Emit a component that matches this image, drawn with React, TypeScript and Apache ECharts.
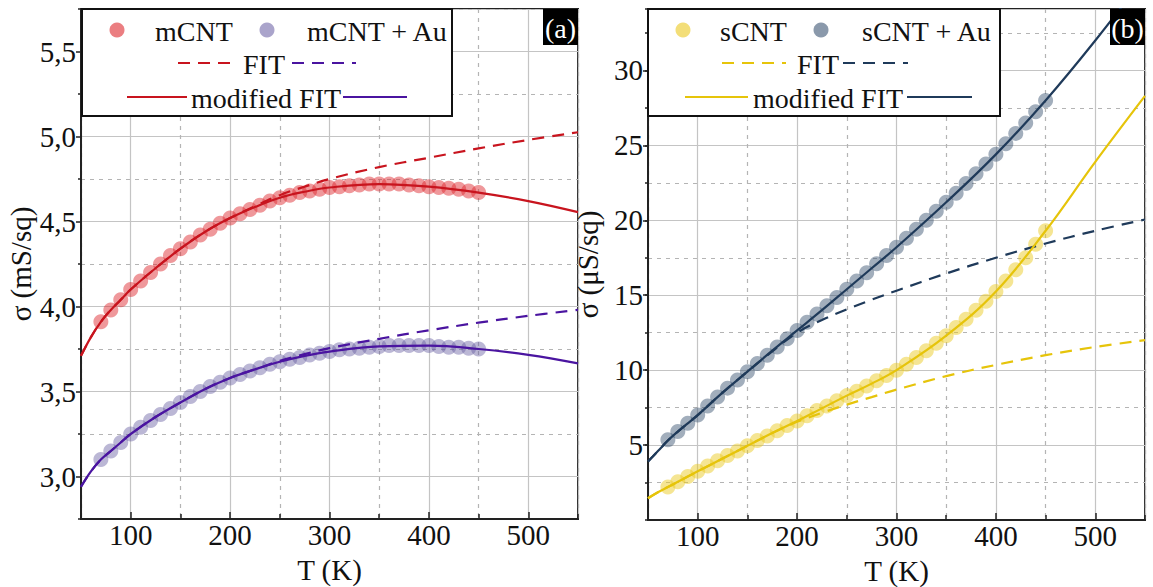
import React, { useEffect, useRef } from "react";
import * as echarts from "echarts";

// ---------- data ----------
const pointT = [70, 80, 90, 100, 110, 120, 130, 140, 150, 160, 170, 180, 190, 200, 210, 220, 230, 240, 250, 260, 270, 280, 290, 300, 310, 320, 330, 340, 350, 360, 370, 380, 390, 400, 410, 420, 430, 440, 450];

const mCNT = [3.91, 3.98, 4.04, 4.10, 4.15, 4.20, 4.25, 4.30, 4.34, 4.38, 4.42, 4.455, 4.49, 4.52, 4.545, 4.57, 4.595, 4.62, 4.64, 4.655, 4.67, 4.68, 4.69, 4.70, 4.705, 4.71, 4.715, 4.72, 4.72, 4.72, 4.72, 4.715, 4.71, 4.705, 4.70, 4.695, 4.69, 4.68, 4.67];
const mCNTAu = [3.10, 3.15, 3.20, 3.25, 3.29, 3.33, 3.365, 3.40, 3.435, 3.47, 3.50, 3.53, 3.555, 3.58, 3.60, 3.62, 3.64, 3.66, 3.675, 3.69, 3.70, 3.715, 3.725, 3.735, 3.745, 3.75, 3.755, 3.76, 3.765, 3.77, 3.77, 3.77, 3.77, 3.77, 3.765, 3.76, 3.76, 3.755, 3.75];

const sCNT = [2.2, 2.55, 2.9, 3.25, 3.6, 3.95, 4.3, 4.6, 4.95, 5.3, 5.6, 5.95, 6.3, 6.6, 6.95, 7.3, 7.6, 7.95, 8.3, 8.6, 8.95, 9.3, 9.65, 10.0, 10.4, 10.85, 11.3, 11.8, 12.3, 12.85, 13.4, 14.0, 14.6, 15.25, 15.95, 16.7, 17.5, 18.4, 19.3];
const sCNTAu = [5.35, 5.9, 6.45, 7.0, 7.6, 8.2, 8.8, 9.35, 9.9, 10.45, 11.0, 11.55, 12.1, 12.65, 13.2, 13.75, 14.3, 14.85, 15.4, 15.95, 16.5, 17.1, 17.65, 18.2, 18.8, 19.4, 20.0, 20.6, 21.2, 21.8, 22.45, 23.1, 23.75, 24.4, 25.1, 25.8, 26.5, 27.25, 28.0];

const fitT = [50, 60, 70, 80, 90, 100, 125, 150, 175, 200, 225, 250, 275, 300, 350, 400, 450, 500, 550];
const mFit = [3.71, 3.82, 3.91, 3.98, 4.04, 4.10, 4.225, 4.34, 4.44, 4.52, 4.59, 4.655, 4.705, 4.75, 4.82, 4.875, 4.93, 4.98, 5.025];
const mModFit = [3.71, 3.82, 3.91, 3.98, 4.04, 4.10, 4.225, 4.34, 4.44, 4.52, 4.585, 4.64, 4.675, 4.70, 4.72, 4.705, 4.67, 4.62, 4.555];
const mAuFit = [2.94, 3.03, 3.10, 3.15, 3.20, 3.25, 3.35, 3.435, 3.515, 3.58, 3.63, 3.68, 3.72, 3.755, 3.81, 3.86, 3.905, 3.945, 3.98];
const mAuModFit = [2.94, 3.03, 3.10, 3.15, 3.20, 3.25, 3.35, 3.435, 3.515, 3.58, 3.63, 3.675, 3.71, 3.735, 3.765, 3.77, 3.75, 3.715, 3.665];

const sFit = [1.45, 1.85, 2.2, 2.55, 2.9, 3.25, 4.1, 4.95, 5.8, 6.55, 7.15, 7.7, 8.2, 8.7, 9.6, 10.35, 11.0, 11.55, 12.0];
const sModFit = [1.45, 1.85, 2.2, 2.55, 2.9, 3.25, 4.1, 4.95, 5.8, 6.6, 7.45, 8.3, 9.1, 10.0, 12.3, 15.25, 19.3, 23.9, 28.3];
const sAuFit = [3.9, 4.6, 5.3, 5.9, 6.45, 7.0, 8.5, 9.9, 11.25, 12.5, 13.35, 14.05, 14.7, 15.3, 16.45, 17.5, 18.45, 19.3, 20.05];
const sAuModFit = [3.9, 4.6, 5.3, 5.9, 6.45, 7.0, 8.5, 9.9, 11.3, 12.65, 14.0, 15.4, 16.8, 18.2, 21.2, 24.4, 28.0, 32.0, 36.3];

const leftLegend = { dots: ["mCNT", "mCNT + Au"], fit: "FIT", mod: "modified FIT", tag: "(a)" };
const rightLegend = { dots: ["sCNT", "sCNT + Au"], fit: "FIT", mod: "modified FIT", tag: "(b)" };

// ---------- styles ----------
const FONT = '"Liberation Serif", "Times New Roman", serif';
const RED = "#c8141e";
const RED_DOT = "rgba(222,40,45,0.6)";
const PURPLE = "#4a14a0";
const PURPLE_DOT = "rgba(100,90,160,0.55)";
const YELLOW = "#e6c40a";
const YELLOW_DOT = "rgba(235,200,30,0.6)";
const NAVY = "#1f3a5a";
const NAVY_DOT = "rgba(60,85,115,0.6)";
const GRID_C = "#c4c4c4";
const DASH_C = "#b4b4b4";

const pairs = (xs: number[], ys: number[]) => xs.map((x, i) => [x, ys[i]]);

function xAxes(gridIndex: number) {
  return [
    {
      type: "value", gridIndex, position: "bottom", min: 50, max: 550, splitNumber: 5,
      name: "T (K)", nameLocation: "middle", nameGap: 36,
      nameTextStyle: { fontFamily: FONT, fontSize: 29, color: "#111" },
      axisLine: { show: true, lineStyle: { color: "#222", width: 2 } },
      axisTick: { show: true, inside: true, length: 7, lineStyle: { color: "#222", width: 1.5 } },
      axisLabel: { showMinLabel: false, showMaxLabel: false, fontFamily: FONT, fontSize: 29, color: "#111", margin: 1 },
      splitLine: { show: true, lineStyle: { color: GRID_C, width: 1.2 } },
    },
    {
      type: "value", gridIndex, position: "bottom", min: 50, max: 550, interval: 100,
      axisLine: { show: false },
      axisTick: { show: true, inside: true, length: 5, lineStyle: { color: "#222", width: 1.5 } },
      axisLabel: { show: false },
      splitLine: { show: true, lineStyle: { color: DASH_C, width: 1.2, type: [4, 5] } },
    },
  ];
}

function App() {
  const ref = useRef<HTMLDivElement>(null);
  useEffect(() => {
    if (!ref.current) return;
    const chart = echarts.init(ref.current, null, { renderer: "svg" });

    const legend = (x0: number, w: number, lg: any, c1: string, d1: string, c2: string, d2: string, pos: any) => {
      const ts = { fontFamily: FONT, fontSize: 28, fill: "#111", verticalAlign: "middle", align: "left" };
      return [
        { type: "rect", z: 100, shape: { x: x0 + 1, y: 9, width: w, height: 107 }, style: { fill: "#fff", stroke: "#111", lineWidth: 2 } },
        { type: "circle", z: 101, shape: { cx: pos.c1, cy: 30, r: 7.5 }, style: { fill: d1 } },
        { type: "text", z: 101, x: pos.t1, y: 31, style: { ...ts, text: lg.dots[0] } },
        { type: "circle", z: 101, shape: { cx: pos.c2, cy: 30, r: 7.5 }, style: { fill: d2 } },
        { type: "text", z: 101, x: pos.t2, y: 31, style: { ...ts, text: lg.dots[1] } },
        { type: "line", z: 101, shape: { x1: pos.d1[0], y1: 63, x2: pos.d1[1], y2: 63 }, style: { stroke: c1, lineWidth: 2.2, lineDash: [12, 8] } },
        { type: "text", z: 101, x: pos.f, y: 64, style: { ...ts, text: lg.fit } },
        { type: "line", z: 101, shape: { x1: pos.d2[0], y1: 63, x2: pos.d2[1], y2: 63 }, style: { stroke: c2, lineWidth: 2.2, lineDash: [12, 8] } },
        { type: "line", z: 101, shape: { x1: pos.s1[0], y1: 97, x2: pos.s1[1], y2: 97 }, style: { stroke: c1, lineWidth: 2.2 } },
        { type: "text", z: 101, x: pos.m, y: 98, style: { ...ts, text: lg.mod } },
        { type: "line", z: 101, shape: { x1: pos.s2[0], y1: 97, x2: pos.s2[1], y2: 97 }, style: { stroke: c2, lineWidth: 2.2 } },
        { type: "rect", z: 100, shape: { x: pos.tagX, y: 9, width: 35, height: 36 }, style: { fill: "#000" } },
        { type: "text", z: 101, x: pos.tagX + 17.5, y: 28, style: { fontFamily: FONT, fontSize: 28, fill: "#fff", text: lg.tag, align: "center", verticalAlign: "middle" } },
      ];
    };

    const lineS = (xa: number, ya: number, ys: number[], color: string, dashed: boolean) => ({
      type: "line", xAxisIndex: xa, yAxisIndex: ya, data: pairs(fitT, ys), smooth: 0.4,
      showSymbol: false, symbol: "none", z: dashed ? 3 : 4, silent: true,
      lineStyle: { color, width: 2.2, type: dashed ? [12, 8] : "solid" },
    });
    const dotS = (xa: number, ya: number, ys: number[], color: string) => ({
      type: "scatter", xAxisIndex: xa, yAxisIndex: ya, data: pairs(pointT, ys),
      symbolSize: 15, z: 2, silent: true, itemStyle: { color, borderWidth: 0 },
    });

    const option: any = {
      animation: false,
      backgroundColor: "#fff",
      grid: [
        { left: 81, top: 9, width: 497, height: 510, show: true, borderColor: "#222", borderWidth: 2, backgroundColor: "transparent", outerBoundsMode: "none", containLabel: false },
        { left: 648, top: 9, width: 497, height: 511, show: true, borderColor: "#222", borderWidth: 2, backgroundColor: "transparent", outerBoundsMode: "none", containLabel: false },
      ],
      xAxis: [...xAxes(0), ...xAxes(1)],
      yAxis: [
        {
          type: "value", gridIndex: 0, position: "left", min: 2.75, max: 5.75, splitNumber: 6,
          name: "σ (mS/sq)", nameLocation: "middle", nameGap: 46, nameRotate: 90,
          nameTextStyle: { fontFamily: FONT, fontSize: 29, color: "#111" },
          axisLine: { show: true, lineStyle: { color: "#222", width: 2 } },
          axisTick: { show: true, inside: false, length: 5, lineStyle: { color: "#222", width: 1.5 } },
          axisLabel: { showMinLabel: false, showMaxLabel: false, fontFamily: FONT, fontSize: 29, color: "#111", margin: 5, formatter: (v: number) => v.toFixed(1).replace(".", ",") },
          splitLine: { show: true, lineStyle: { color: GRID_C, width: 1.2 } },
        },
        {
          type: "value", gridIndex: 0, position: "left", min: 2.75, max: 5.75, interval: 0.5,
          axisLine: { show: false }, axisLabel: { show: false },
          axisTick: { show: true, inside: false, length: 3, lineStyle: { color: "#222", width: 1.5 } },
          splitLine: { show: true, lineStyle: { color: DASH_C, width: 1.2, type: [4, 5] } },
        },
        {
          type: "value", gridIndex: 1, position: "left", min: 0, max: 34.1, interval: 2.5,
          axisLine: { show: false }, axisLabel: { show: false },
          axisTick: { show: true, inside: false, length: 3, lineStyle: { color: "#222", width: 1.5 } },
          splitLine: { show: true, lineStyle: { color: DASH_C, width: 1.2, type: [4, 5] } },
        },
        {
          type: "value", gridIndex: 1, position: "left", min: 0, max: 34.1, interval: 5,
          name: "σ (μS/sq)", nameLocation: "middle", nameGap: 46, nameRotate: 90,
          nameTextStyle: { fontFamily: FONT, fontSize: 29, color: "#111" },
          axisLine: { show: true, lineStyle: { color: "#222", width: 2 } },
          axisTick: { show: true, inside: false, length: 5, lineStyle: { color: "#222", width: 1.5 } },
          axisLabel: { showMinLabel: false, showMaxLabel: false, fontFamily: FONT, fontSize: 29, color: "#111", margin: 5 },
          splitLine: { show: true, lineStyle: { color: GRID_C, width: 1.2 } },
        },
      ],
      series: [
        dotS(0, 0, mCNT, RED_DOT),
        dotS(0, 0, mCNTAu, PURPLE_DOT),
        lineS(0, 0, mFit, RED, true),
        lineS(0, 0, mAuFit, PURPLE, true),
        lineS(0, 0, mModFit, RED, false),
        lineS(0, 0, mAuModFit, PURPLE, false),
        dotS(2, 3, sCNT, YELLOW_DOT),
        dotS(2, 3, sCNTAu, NAVY_DOT),
        lineS(2, 3, sFit, YELLOW, true),
        lineS(2, 3, sAuFit, NAVY, true),
        lineS(2, 3, sModFit, YELLOW, false),
        lineS(2, 3, sAuModFit, NAVY, false),
      ],
      graphic: [
        ...legend(81, 370, leftLegend, RED, RED_DOT, PURPLE, PURPLE_DOT,
          { c1: 117, t1: 155, c2: 267, t2: 307, d1: [178, 238], f: 243, d2: [292, 356], s1: [127, 187], m: 191, s2: [343, 407], tagX: 543 }),
        ...legend(647, 352, rightLegend, YELLOW, YELLOW_DOT, NAVY, NAVY_DOT,
          { c1: 683, t1: 720, c2: 821, t2: 862, d1: [722, 786], f: 797, d2: [843, 908], s1: [685, 748], m: 753, s2: [907, 972], tagX: 1110 }),
      ],
    };
    chart.setOption(option);
    return () => chart.dispose();
  }, []);
  return <div ref={ref} style={{ position: "absolute", left: 0, top: 0, width: 1153, height: 587 }} />;
}

export default App;
